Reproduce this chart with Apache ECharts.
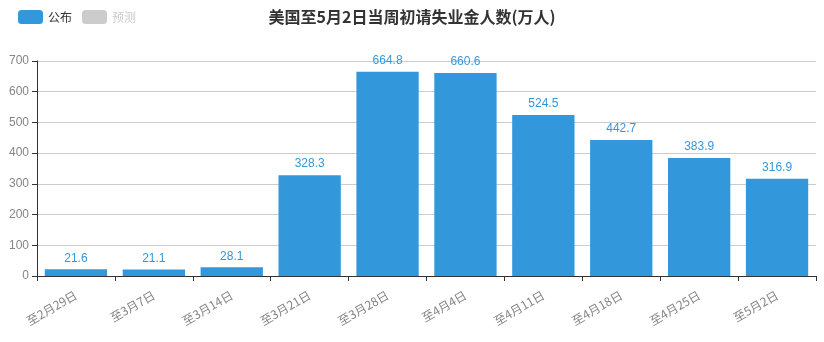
<!DOCTYPE html>
<html><head><meta charset="utf-8">
<script src="https://cdn.jsdelivr.net/npm/echarts@6/dist/echarts.min.js"></script>
<style>html,body{margin:0;padding:0;background:#fff}#c{width:824px;height:342px}</style>
</head><body><div id="c"></div>
<script>
const categories = ['至2月29日','至3月7日','至3月14日','至3月21日','至3月28日','至4月4日','至4月11日','至4月18日','至4月25日','至5月2日'];
const published = [21.6, 21.1, 28.1, 328.3, 664.8, 660.6, 524.5, 442.7, 383.9, 316.9];
const forecast = [];
const yTicks = {min: 0, max: 700, interval: 100};

const chart = echarts.init(document.getElementById('c'));
chart.setOption({
  animation: false,
  title: {
    text: '美国至5月2日当周初请失业金人数(万人)',
    left: 'center', top: 4,
    textStyle: {fontSize: 16, fontWeight: 'bold', color: '#333', fontFamily: 'Noto Sans CJK SC'}
  },
  legend: {
    left: 13, top: 5, itemWidth: 25, itemHeight: 14, itemGap: 10,
    data: ['公布', '预测'],
    selected: {'公布': true, '预测': false},
    inactiveColor: '#ccc',
    textStyle: {fontSize: 12, color: '#333', fontFamily: 'Noto Sans CJK SC'}
  },
  grid: {left: 37, right: 8, top: 61, bottom: 66},
  xAxis: {
    type: 'category', data: categories,
    axisLine: {lineStyle: {color: '#333'}},
    axisTick: {show: true, alignWithLabel: false, lineStyle: {color: '#333'}},
    axisLabel: {rotate: 30, margin: 18, color: '#858585', fontSize: 12, fontFamily: 'Noto Sans CJK SC', interval: 0}
  },
  yAxis: {
    type: 'value', min: yTicks.min, max: yTicks.max, interval: yTicks.interval,
    axisLine: {show: true, lineStyle: {color: '#333'}},
    axisTick: {show: true, lineStyle: {color: '#333'}},
    axisLabel: {color: '#858585', fontSize: 12},
    splitLine: {lineStyle: {color: '#ccc'}}
  },
  series: [
    {
      name: '公布', type: 'bar', data: published,
      barCategoryGap: '20%',
      itemStyle: {color: '#3398db'},
      label: {show: true, position: 'top', color: '#3398db', fontSize: 12}
    },
    {
      name: '预测', type: 'bar', data: forecast,
      itemStyle: {color: '#c8c8c8'}
    }
  ]
});
</script></body></html>
